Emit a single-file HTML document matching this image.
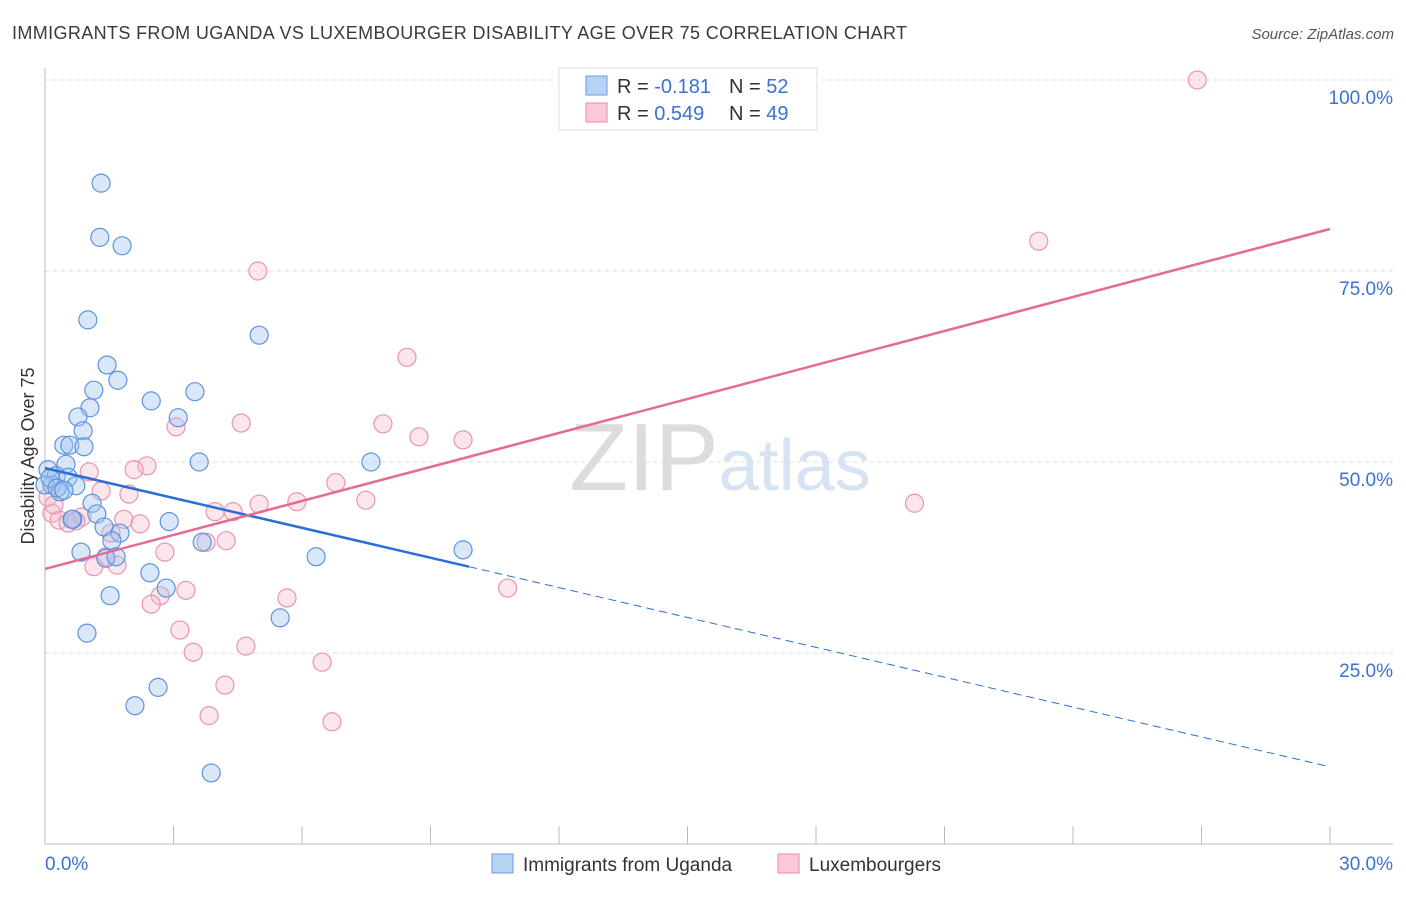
<!DOCTYPE html>
<html><head><meta charset="utf-8"><style>
body{margin:0;background:#fff;font-family:"Liberation Sans",sans-serif;}
svg text{font-family:"Liberation Sans",sans-serif;}
</style></head><body>
<svg id="c" width="1406" height="892">
<text x="12" y="39" font-size="18" fill="#3a3a3a" textLength="895" lengthAdjust="spacing">IMMIGRANTS FROM UGANDA VS LUXEMBOURGER DISABILITY AGE OVER 75 CORRELATION CHART</text>
<text x="1394" y="39" font-size="15" fill="#555" font-style="italic" text-anchor="end">Source: ZipAtlas.com</text>
<text x="0" y="0" transform="translate(34,456) rotate(-90)" font-size="18" fill="#333" text-anchor="middle">Disability Age Over 75</text>
<text x="720" y="490" font-size="96" fill="#e6e6e6" text-anchor="middle" font-family="Liberation Serif"><tspan fill="#dcdcdc">ZIP</tspan><tspan fill="#d6e3f3" font-family="Liberation Sans" font-size="72">atlas</tspan></text>
<g id="grid"></g><g id="axes"></g><g id="pts"></g><g id="lines"></g>
<g>
<rect x="559" y="68" width="258" height="62" fill="#fff" stroke="#ddd"/>
<rect x="586" y="76" width="21" height="19" fill="#b8d2f4" stroke="#6a9ee0"/>
<rect x="586" y="103" width="21" height="19" fill="#f9c9d8" stroke="#e98aa8"/>
<text x="617" y="93" font-size="20" fill="#333">R = <tspan fill="#3a72d0">-0.181</tspan></text>
<text x="729" y="93" font-size="20" fill="#333">N = <tspan fill="#3a72d0">52</tspan></text>
<text x="617" y="120" font-size="20" fill="#333">R = <tspan fill="#3a72d0">0.549</tspan></text>
<text x="729" y="120" font-size="20" fill="#333">N = <tspan fill="#3a72d0">49</tspan></text>
</g>
<g>
<rect x="492" y="854" width="21" height="19" fill="#b8d2f4" stroke="#6a9ee0"/>
<text x="523" y="871" font-size="19" fill="#333">Immigrants from Uganda</text>
<rect x="778" y="854" width="21" height="19" fill="#f9c9d8" stroke="#e98aa8"/>
<text x="809" y="871" font-size="19" fill="#333">Luxembourgers</text>
</g>
</svg>
<script>
const blueX=[1.31,1.28,1.80,1.00,5.00,1.45,1.70,1.14,3.50,2.48,1.05,0.77,3.11,0.89,0.44,0.58,0.91,3.60,7.61,0.49,0.07,0.26,0.54,0.16,0.35,0.72,1.10,1.21,0.65,1.38,2.90,1.75,1.56,3.67,0.84,9.76,1.42,1.66,6.33,2.45,2.83,1.52,5.49,0.98,2.64,2.10,3.88,0.0,0.12,0.28,0.44,0.63];
const blueY=[86.5,79.4,78.3,68.6,66.6,62.7,60.7,59.4,59.2,58.0,57.1,55.9,55.8,54.1,52.2,52.2,52.0,50.0,50.0,49.7,49.0,48.2,48.0,47.0,46.1,46.9,44.6,43.2,42.5,41.5,42.2,40.7,39.7,39.5,38.2,38.5,37.4,37.6,37.6,35.5,33.5,32.5,29.6,27.6,20.5,18.1,9.3,47.0,47.9,46.6,46.3,42.5];
const pinkX=[26.9,23.2,4.97,8.45,3.06,4.58,7.89,8.73,9.76,2.38,2.08,1.03,6.79,1.31,1.96,7.49,5.88,5.00,20.3,4.39,3.97,0.16,0.86,1.84,2.22,0.33,0.54,0.72,1.54,4.23,3.76,2.80,1.42,1.14,1.68,3.29,2.69,10.8,2.48,5.65,3.15,3.46,4.69,6.47,4.20,3.83,6.70,0.07,0.21];
const pinkY=[100.0,78.9,75.0,63.7,54.6,55.1,55.0,53.3,52.9,49.5,49.0,48.7,47.3,46.2,45.8,45.0,44.8,44.5,44.6,43.5,43.5,43.3,42.8,42.5,41.9,42.4,42.0,42.3,40.7,39.7,39.5,38.2,37.6,36.3,36.5,33.2,32.5,33.5,31.4,32.2,28.0,25.1,25.9,23.8,20.8,16.8,16.0,45.4,44.4];
const yTicks=[25,50,75,100];
const yTickLabels=["25.0%","50.0%","75.0%","100.0%"];
const xTicks=[0,3,6,9,12,15,18,21,24,27,30];
const blueTrend=[49.2,10.1];
const pinkTrend=[36.0,80.5];
const blueSolidEnd=9.9;
const NS="http://www.w3.org/2000/svg";
const sx=v=>45+v/30*1285;
const sy=v=>844-v/100*764;
function mk(tag,attrs,parent){const e=document.createElementNS(NS,tag);for(const k in attrs)e.setAttribute(k,attrs[k]);document.getElementById(parent).appendChild(e);return e;}
yTicks.forEach((t,i)=>{
  const g=mk('line',{x1:45,x2:1393,y1:sy(t),y2:sy(t),stroke:'#ddd','stroke-dasharray':'4,4'},'grid');
  
  
  const l=mk('text',{x:1393,y:sy(t)+24,'font-size':19,fill:'#3a72d0','text-anchor':'end'},'grid');
  l.textContent=yTickLabels[i];
  
  
});
const ax=mk('line',{x1:45,x2:45,y1:68,y2:844,stroke:'#bbb'},'axes');


const bx=mk('line',{x1:45,x2:1393,y1:844,y2:844,stroke:'#bbb'},'axes');


xTicks.forEach(t=>{
  const tk=mk('line',{x1:sx(t),x2:sx(t),y1:826,y2:844,stroke:'#bbb'},'axes');
  
  
});
const x0=mk('text',{x:45,y:870,'font-size':19,fill:'#3a72d0'},'axes');x0.textContent=xTicks[0].toFixed(1)+'%';


const x1=mk('text',{x:1393,y:870,'font-size':19,fill:'#3a72d0','text-anchor':'end'},'axes');x1.textContent=xTicks[xTicks.length-1].toFixed(1)+'%';


pinkX.forEach((x,i)=>{
  const c=mk('circle',{cx:sx(x),cy:sy(pinkY[i]),r:9,fill:'rgba(246,182,202,0.35)',stroke:'#ec93b0','stroke-width':1.2},'pts');
  
  
});
blueX.forEach((x,i)=>{
  const c=mk('circle',{cx:sx(x),cy:sy(blueY[i]),r:9,fill:'rgba(160,194,240,0.4)',stroke:'#5d94de','stroke-width':1.2},'pts');
  
  
});
const bAt=x=>blueTrend[0]+(blueTrend[1]-blueTrend[0])*x/30;
const t1=mk('line',{x1:sx(0),y1:sy(bAt(0)),x2:sx(blueSolidEnd),y2:sy(bAt(blueSolidEnd)),stroke:'#2a6fd6','stroke-width':2.5},'lines');


const t2=mk('line',{x1:sx(blueSolidEnd),y1:sy(bAt(blueSolidEnd)),x2:sx(30),y2:sy(bAt(30)),stroke:'#2a6fd6','stroke-width':1,'stroke-dasharray':'8,5'},'lines');


const t3=mk('line',{x1:sx(0),y1:sy(pinkTrend[0]),x2:sx(30),y2:sy(pinkTrend[1]),stroke:'#e46b95','stroke-width':2.5},'lines');


</script>
</body></html>
